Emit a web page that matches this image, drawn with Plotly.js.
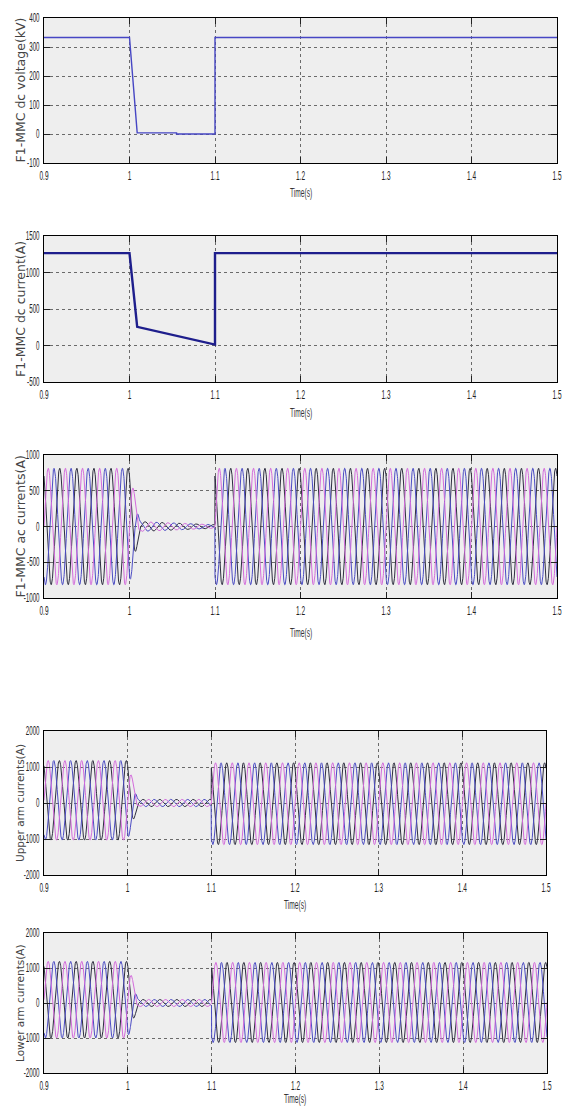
<!DOCTYPE html>
<html>
<head>
<meta charset="utf-8">
<script src="https://cdn.plot.ly/plotly-3.0.1.min.js"></script>
<style>html,body{margin:0;padding:0;background:#fff;}#chart{width:568px;height:1106px;}</style>
</head>
<body>
<div id="chart"></div>
<script>
// ---------- data ----------
const xTickVals = [0.9, 1.0, 1.1, 1.2, 1.3, 1.4, 1.5];
const xTickLabels = ['0.9', '1', '1.1', '1.2', '1.3', '1.4', '1.5'];

// Panel 1: F1-MMC dc voltage (kV)
const dcVoltageTime = [0.9, 1.0, 1.009, 1.055, 1.055, 1.1, 1.1, 1.5];
const dcVoltageKV   = [333, 333, 4, 4, 0, 0, 333, 333];
const vTickVals = [-100, 0, 100, 200, 300, 400];
const vTickLabels = ['-100', '0', '100', '200', '300', '400'];

// Panel 2: F1-MMC dc current (A)
const dcCurrentTime = [0.9, 1.0, 1.009, 1.1, 1.1, 1.5];
const dcCurrentA    = [1265, 1265, 255, 12, 1265, 1265];
const iTickVals = [-500, 0, 500, 1000, 1500];
const iTickLabels = ['-500', '0', '500', '1000', '1500'];

// Panel 3: F1-MMC ac currents (A) - envelope of the 50 Hz three-phase currents
const acEnvTime   = [0.9, 1.0, 1.012, 1.1, 1.1, 1.5];
const acEnvAmp    = [815, 815, 70, 25, 815, 815];
const acEnvOffset = [0, 0, 0, 0, 0, 0];
const acTickVals = [-1000, -500, 0, 500, 1000];
const acTickLabels = ['-1000', '-500', '0', '500', '1000'];

// Panel 4: Upper arm currents (A)
const upEnvTime   = [0.9, 1.0, 1.012, 1.1, 1.1, 1.5];
const upEnvAmp    = [1105, 1105, 100, 100, 1137, 1137];
const upEnvOffset = [75, 75, 0, 0, -20, -20];
// Panel 5: Lower arm currents (A)
const loEnvTime   = [0.9, 1.0, 1.012, 1.1, 1.1, 1.5];
const loEnvAmp    = [1095, 1095, 100, 100, 1145, 1145];
const loEnvOffset = [95, 95, 0, 0, 15, 15];
const armTickVals = [-2000, -1000, 0, 1000, 2000];
const armTickLabels = ['-2000', '-1000', '0', '1000', '2000'];

const gridFrequencyHz = 50;
const phaseNames = ['c', 'b', 'a'];
const phaseShiftDeg = [240, 120, 0];
const phaseColors = ['#2e2e40', '#4c4cc4', '#d46cdc'];

// ---------- helpers ----------
function envAt(tArr, vArr, t) {
  for (let i = 0; i < tArr.length - 1; i++) {
    if (t >= tArr[i] && t < tArr[i + 1]) {
      const f = (t - tArr[i]) / (tArr[i + 1] - tArr[i]);
      return vArr[i] + f * (vArr[i + 1] - vArr[i]);
    }
  }
  return vArr[vArr.length - 1];
}
function threePhase(envT, envA, envO, xa, ya) {
  const traces = [];
  for (let p = 0; p < 3; p++) {
    const xs = [], ys = [];
    const n = 3000;
    for (let k = 0; k <= n; k++) {
      const t = 0.9 + (0.6 * k) / n;
      const a = envAt(envT, envA, t);
      const o = envAt(envT, envO, t);
      xs.push(t);
      ys.push(o + a * Math.sin(2 * Math.PI * gridFrequencyHz * t - phaseShiftDeg[p] * Math.PI / 180));
    }
    traces.push({x: xs, y: ys, xaxis: xa, yaxis: ya, type: 'scatter', mode: 'lines',
      name: phaseNames[p], line: {color: phaseColors[p], width: 1}, showlegend: false, hoverinfo: 'skip'});
  }
  return traces;
}

// ---------- traces ----------
const data = [];
data.push({x: dcVoltageTime, y: dcVoltageKV, xaxis: 'x', yaxis: 'y', type: 'scatter', mode: 'lines',
  line: {color: '#4646c4', width: 1.4}, showlegend: false});
data.push({x: dcCurrentTime, y: dcCurrentA, xaxis: 'x2', yaxis: 'y2', type: 'scatter', mode: 'lines',
  line: {color: '#1e1e8c', width: 2.4}, showlegend: false});
data.push(...threePhase(acEnvTime, acEnvAmp, acEnvOffset, 'x3', 'y3'));
data.push(...threePhase(upEnvTime, upEnvAmp, upEnvOffset, 'x4', 'y4'));
data.push(...threePhase(loEnvTime, loEnvAmp, loEnvOffset, 'x5', 'y5'));

// ---------- layout ----------
const W = 568, H = 1106;
const narrowFamily = 'Liberation Sans, Arial, sans-serif';
function xAxis(l, r, anchor) {
  return {domain: [l / W, r / W], anchor: anchor, range: [0.9, 1.5], tickvals: xTickVals, ticktext: xTickLabels,
    showline: true, linecolor: '#000', linewidth: 1, mirror: 'ticks', ticks: 'inside', ticklen: 6, tickcolor: '#222',
    showgrid: true, gridcolor: '#6a6a6a', griddash: 'dot', gridwidth: 1, zeroline: false,
    tickfont: {family: narrowFamily, size: 13, color: '#222'}, fixedrange: true};
}
function yAxis(top, bottom, anchor, range, vals, labels) {
  return {domain: [1 - bottom / H, 1 - top / H], anchor: anchor, range: range, tickvals: vals, ticktext: labels,
    showline: true, linecolor: '#000', linewidth: 1, mirror: 'ticks', ticks: 'inside', ticklen: 6, tickcolor: '#222',
    showgrid: true, gridcolor: '#6a6a6a', griddash: 'dot', gridwidth: 1, zeroline: false,
    tickfont: {family: narrowFamily, size: 12, color: '#222'}, fixedrange: true, ticklabelstandoff: 1};
}
const panels = [
  {top: 18, bottom: 163, l: 44, r: 557, title: 'F1-MMC dc voltage(kV)', tsize: 12.5, timeY: 193},
  {top: 236, bottom: 382, l: 44, r: 557, title: 'F1-MMC dc current(A)', tsize: 12.5, timeY: 413},
  {top: 455, bottom: 598, l: 44, r: 557, title: 'F1-MMC ac currents(A)', tsize: 12.5, timeY: 633},
  {top: 731, bottom: 875, l: 44, r: 546, title: 'Upper arm currents(A)', tsize: 10.5, timeY: 905},
  {top: 933, bottom: 1073, l: 44, r: 547, title: 'Lower arm currents(A)', tsize: 10.5, timeY: 1099}
];
const layout = {
  width: W, height: H, margin: {l: 0, r: 0, t: 0, b: 0}, paper_bgcolor: '#ffffff', plot_bgcolor: '#eeeeee',
  showlegend: false,
  xaxis: xAxis(44, 557, 'y'),
  yaxis: yAxis(18, 163, 'x', [-100, 400], vTickVals, vTickLabels),
  xaxis2: xAxis(44, 557, 'y2'),
  yaxis2: yAxis(236, 382, 'x2', [-500, 1500], iTickVals, iTickLabels),
  xaxis3: xAxis(44, 557, 'y3'),
  yaxis3: yAxis(455, 598, 'x3', [-1000, 1000], acTickVals, acTickLabels),
  xaxis4: xAxis(44, 546, 'y4'),
  yaxis4: yAxis(731, 875, 'x4', [-2000, 2000], armTickVals, armTickLabels),
  xaxis5: xAxis(44, 547, 'y5'),
  yaxis5: yAxis(933, 1073, 'x5', [-2000, 2000], armTickVals, armTickLabels),
  annotations: []
};
panels.forEach(p => {
  layout.annotations.push({text: p.title, xref: 'paper', yref: 'paper', x: 20 / W, y: 1 - ((p.top + p.bottom) / 2) / H,
    xanchor: 'center', yanchor: 'middle', textangle: -90, showarrow: false,
    font: {family: 'DejaVu Sans, sans-serif', size: p.tsize, color: '#444'}});
  layout.annotations.push({text: 'Time(s)', xref: 'paper', yref: 'paper', x: ((p.l + p.r) / 2) / W, y: 1 - p.timeY / H,
    xanchor: 'center', yanchor: 'middle', showarrow: false,
    font: {family: narrowFamily, size: 12, color: '#333'}});
});

// condense the narrow (MATLAB-like) labels with SVG textLength, keeping them real text
function condense(el, factor) {
  const w = el.getComputedTextLength();
  if (w > 0) {
    el.setAttribute('textLength', (w * factor).toFixed(2));
    el.setAttribute('lengthAdjust', 'spacingAndGlyphs');
  }
}
Plotly.newPlot('chart', data, layout, {staticPlot: true, displayModeBar: false}).then(gd => {
  gd.querySelectorAll('.xaxislayer-above text').forEach(el => condense(el, 0.5));
  gd.querySelectorAll('.yaxislayer-above text').forEach(el => condense(el, 0.52));
  gd.querySelectorAll('.annotation-text').forEach(el => {
    if (el.textContent === 'Time(s)') condense(el, 0.55);
  });
});
</script>
</body>
</html>
